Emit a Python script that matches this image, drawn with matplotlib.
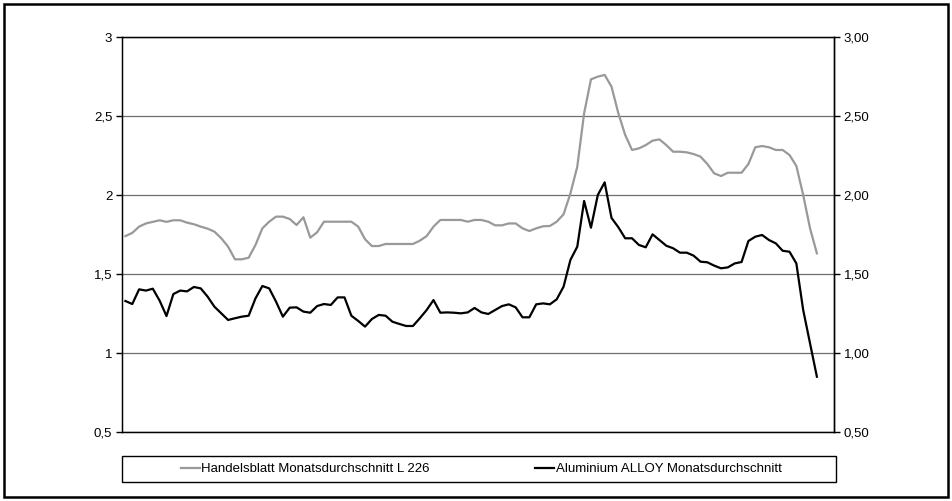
import numpy as np
import matplotlib.pyplot as plt
from matplotlib.patches import Rectangle
from matplotlib.ticker import FuncFormatter, MultipleLocator

plt.rcParams['font.family'] = ['Liberation Sans', 'DejaVu Sans']

# monthly averages
handelsblatt = [
    1.74, 1.76, 1.80, 1.82, 1.83, 1.84, 1.83, 1.84, 1.84, 1.825,
    1.815, 1.80, 1.787, 1.768, 1.726, 1.673, 1.593, 1.593, 1.603, 1.684,
    1.789, 1.831, 1.863, 1.863, 1.848, 1.81, 1.859, 1.73, 1.764, 1.831,
    1.831, 1.831, 1.831, 1.831, 1.80, 1.72, 1.677, 1.677, 1.69, 1.69,
    1.69, 1.69, 1.69, 1.711, 1.74, 1.80, 1.842, 1.842, 1.842, 1.842,
    1.831, 1.842, 1.842, 1.831, 1.808, 1.808, 1.82, 1.82, 1.789, 1.772,
    1.789, 1.802, 1.804, 1.831, 1.878, 2.01, 2.179, 2.517, 2.732, 2.749,
    2.76, 2.686, 2.517, 2.38, 2.285, 2.295, 2.316, 2.344, 2.352, 2.316,
    2.274, 2.274, 2.27, 2.259, 2.243, 2.196, 2.137, 2.12, 2.141, 2.141,
    2.141, 2.196, 2.302, 2.31, 2.302, 2.285, 2.285, 2.253, 2.184, 2.0,
    1.789, 1.631,
]
alloy = [
    1.329, 1.31, 1.403, 1.395, 1.407, 1.331, 1.234, 1.373, 1.395, 1.39,
    1.418, 1.409, 1.357, 1.293, 1.251, 1.209, 1.22, 1.23, 1.236, 1.346,
    1.424, 1.409, 1.325, 1.23, 1.287, 1.289, 1.262, 1.255, 1.297, 1.31,
    1.304, 1.352, 1.352, 1.236, 1.203, 1.167, 1.215, 1.241, 1.236, 1.198,
    1.184, 1.171, 1.171, 1.22, 1.272, 1.335, 1.255, 1.257, 1.255, 1.251,
    1.257, 1.285, 1.257, 1.247, 1.272, 1.297, 1.308, 1.289, 1.226, 1.226,
    1.308, 1.314, 1.308, 1.34, 1.42, 1.589, 1.673, 1.962, 1.793, 2.0,
    2.08, 1.855, 1.796, 1.726, 1.726, 1.684, 1.669, 1.751, 1.715, 1.679,
    1.663, 1.635, 1.635, 1.616, 1.578, 1.574, 1.553, 1.536, 1.542, 1.567,
    1.576, 1.709, 1.736, 1.747, 1.715, 1.694, 1.647, 1.641, 1.567, 1.272,
    1.061, 0.85,
]
n_categories = 104
labels = ['Handelsblatt Monatsdurchschnitt L 226', 'Aluminium ALLOY Monatsdurchschnitt']

fig = plt.figure(figsize=(9.52, 5.01), dpi=100)
ax = fig.add_axes([122 / 952, 1 - 432 / 501, (834 - 122) / 952, (432 - 37) / 501])

x = np.arange(len(alloy))
l1, = ax.plot(x, handelsblatt, color='#999999', lw=1.6, label=labels[0])
l2, = ax.plot(x, alloy, color='black', lw=1.6, label=labels[1])

ax.set_xlim(-0.5, n_categories - 0.5)
ax.set_ylim(0.5, 3)
ax.yaxis.set_major_locator(MultipleLocator(0.5))
ax.yaxis.set_major_formatter(FuncFormatter(lambda v, p: f'{v:g}'.replace('.', ',')))
ax.set_xticks([])
ax.grid(axis='y', color='#6e6e6e', lw=0.9)
ax.set_axisbelow(True)
for s in ax.spines.values():
    s.set_color('black')
    s.set_linewidth(1.0)
ax.tick_params(axis='y', direction='out', length=4, width=1, labelsize=9.5, pad=3)

ax2 = ax.twinx()
ax2.set_ylim(0.5, 3)
ax2.yaxis.set_major_locator(MultipleLocator(0.5))
ax2.yaxis.set_major_formatter(FuncFormatter(lambda v, p: f'{v:.2f}'.replace('.', ',')))
ax2.tick_params(axis='y', direction='out', length=4, width=1, labelsize=9.5, pad=3)
ax2.spines['right'].set_linewidth(1.0)

# legend: box drawn separately, entries centred inside it
fig.patches.append(Rectangle((122 / 952, 1 - 482 / 501), (836 - 122) / 952, 26 / 501,
                             transform=fig.transFigure, fill=False, edgecolor='black', lw=1.0))
fig.legend(handles=[l1, l2], loc='center', ncol=2, fontsize=9.5,
           bbox_to_anchor=(481 / 952, 1 - 469 / 501), frameon=False,
           handlelength=1.45, handletextpad=0.1, borderaxespad=0, columnspacing=8.0)

# outer border of the chart area
fig.patches.append(Rectangle((4 / 952, 4 / 501), 944 / 952, 493 / 501, transform=fig.transFigure,
                             fill=False, edgecolor='black', lw=1.8))

fig.savefig('out.png', dpi=100)
